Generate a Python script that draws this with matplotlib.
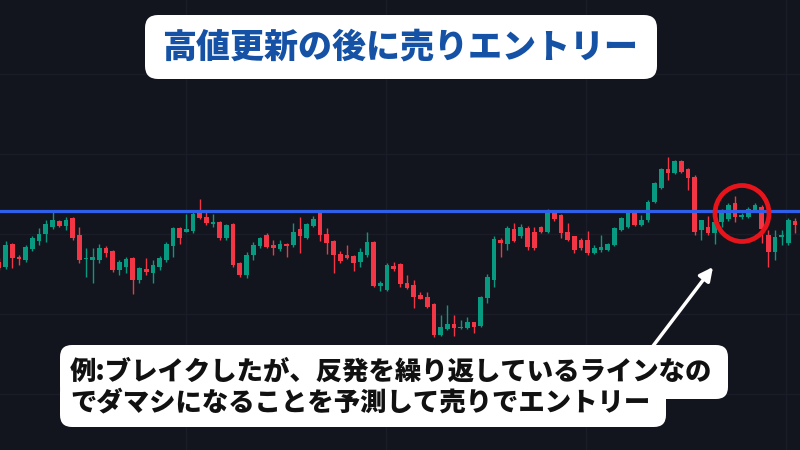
import matplotlib
matplotlib.use("Agg")
import matplotlib.pyplot as plt
import numpy as np
from matplotlib.patches import FancyBboxPatch, Ellipse

plt.rcParams['font.family'] = ['Noto Sans CJK JP', 'DejaVu Sans']

# OHLC (price units)
opens = [188, 183, 206, 193, 190, 201, 209, 216, 223, 229, 224, 232, 215, 191, 190, 190, 202, 199, 180, 183,
         192, 170, 181, 177, 183, 190, 204, 222, 218, 219, 237, 233, 226, 228, 212, 226, 187, 175, 195, 204,
         215, 205, 201, 206, 205, 221, 212, 224, 237, 216, 209, 196, 195, 194, 188, 195, 208, 164, 160, 184,
         186, 167, 165, 155, 153, 146, 115, 121, 126, 122, 122, 128, 124, 152, 170, 210, 206, 221, 214, 222,
         218, 223, 218, 237, 235, 218, 214, 210, 210, 197, 200, 200, 205, 220, 223, 238, 225, 230, 248, 262,
         281, 277, 289, 281, 273, 220, 223, 217, 228, 231, 247, 233, 233, 240, 243, 215, 198, 213, 207, 229]
highs = [192, 209, 207, 195, 205, 214, 222, 230, 239, 230, 233, 233, 223, 202, 202, 206, 204, 200, 190, 193,
         193, 183, 192, 190, 194, 208, 223, 223, 236, 238, 251, 239, 236, 229, 226, 227, 188, 198, 208, 213,
         217, 210, 210, 207, 227, 233, 227, 234, 238, 222, 210, 199, 205, 195, 202, 218, 209, 169, 187, 188,
         187, 175, 170, 158, 158, 147, 135, 145, 135, 130, 133, 128, 154, 176, 214, 212, 224, 227, 226, 224,
         223, 224, 241, 238, 236, 227, 214, 212, 219, 205, 215, 207, 223, 233, 240, 239, 235, 250, 268, 282,
         293, 290, 290, 282, 275, 230, 234, 231, 241, 247, 254, 237, 243, 247, 245, 220, 220, 220, 232, 232]
lows = [180, 181, 182, 185, 188, 199, 205, 208, 221, 223, 220, 210, 187, 173, 167, 187, 193, 178, 175, 177,
        156, 167, 175, 167, 180, 188, 193, 206, 218, 217, 231, 225, 223, 210, 210, 183, 173, 172, 190, 202,
        202, 195, 199, 193, 203, 197, 211, 223, 209, 196, 177, 187, 191, 179, 183, 193, 163, 159, 159, 179,
        163, 161, 142, 151, 142, 113, 114, 120, 114, 121, 121, 117, 123, 147, 163, 193, 200, 208, 212, 200,
        200, 217, 217, 229, 212, 209, 197, 200, 195, 196, 198, 199, 204, 219, 222, 224, 224, 228, 247, 261,
        270, 276, 277, 260, 215, 210, 215, 206, 223, 229, 228, 231, 232, 239, 207, 183, 190, 205, 205, 217]
closes = [182, 205, 192, 191, 203, 212, 216, 226, 230, 224, 230, 212, 190, 192, 193, 202, 197, 180, 188, 191,
          170, 182, 178, 185, 192, 206, 222, 212, 221, 236, 232, 227, 228, 212, 225, 185, 175, 195, 205, 212,
          203, 202, 206, 204, 218, 214, 226, 231, 215, 207, 195, 189, 192, 187, 198, 208, 164, 167, 185, 181,
          166, 162, 153, 151, 143, 115, 123, 126, 122, 123, 128, 123, 153, 173, 211, 207, 222, 209, 223, 203,
          202, 218, 237, 231, 217, 210, 200, 202, 197, 202, 203, 206, 222, 232, 238, 225, 230, 248, 267, 281,
          277, 289, 278, 272, 218, 230, 217, 228, 238, 245, 233, 235, 241, 245, 221, 198, 213, 215, 230, 225]
resistance = 239

title = "高値更新の後に売りエントリー"
note_line1 = "例:ブレイクしたが、反発を繰り返しているラインなの"
note_line2 = "でダマシになることを予測して売りでエントリー"

UP = '#089981'
DOWN = '#f23645'
BG = '#12151d'

fig = plt.figure(figsize=(8, 4.5), dpi=100)
fig.patch.set_facecolor(BG)
ax = fig.add_axes([0, 0, 1, 1])
ax.set_facecolor(BG)

o = np.array(opens, float)
h = np.array(highs, float)
l = np.array(lows, float)
c = np.array(closes, float)
idx = np.arange(len(o))
cols = np.where(c >= o, UP, DOWN)

ax.vlines(idx, l, h, colors=cols, linewidth=1.0, zorder=3)
body_h = np.maximum(np.abs(c - o), 1.5)
ax.bar(idx, body_h, bottom=np.minimum(o, c), width=0.7, color=cols, zorder=4, linewidth=0)

ax.axhline(resistance, color='#2f5fe8', linewidth=2.3, zorder=5)

# px -> candle index: x_px = -1 + 6.69 * i
step = 6.69
ax.set_xlim(1 / step, 801 / step)
ax.set_ylim(0, 450)

ax.set_xticks((np.arange(4) * 200 + 187) / step)
ax.set_yticks([56, 136, 216, 296, 376])
ax.grid(True, color='#1a1d27', linewidth=1.0, zorder=0)
ax.tick_params(length=0, labelbottom=False, labelleft=False)
for s in ax.spines.values():
    s.set_visible(False)

# red circle around the fake breakout
ax.add_patch(Ellipse((743 / step, 236.5), 54 / step, 56, fill=False,
                     edgecolor='#e8141b', linewidth=3.4, zorder=6))

# arrow from note box
ax.annotate('', xy=(714 / step, 183), xytext=(654 / step, 104),
            arrowprops=dict(arrowstyle='-|>', color='white', lw=2.5,
                            mutation_scale=20, shrinkA=0, shrinkB=0), zorder=7)

# title box
W, H = 800, 450
def fbox(x0, y0, x1, y1, r):
    return FancyBboxPatch((x0 / W, 1 - y1 / H), (x1 - x0) / W, (y1 - y0) / H,
                          boxstyle=f"round,pad=0,rounding_size={r / W}",
                          transform=fig.transFigure, facecolor='white',
                          edgecolor='none', zorder=10, mutation_aspect=W / H)

fig.patches.append(fbox(145, 15, 657, 79, 13))
fig.text(0.5, 1 - 47 / H, title, ha='center', va='center', fontsize=24.5,
         fontweight='black', color='#1552a5', zorder=11)

# note box (two stacked rounded parts)
fig.patches.append(fbox(60, 345, 728, 399, 12))
fig.patches.append(fbox(60, 380, 666, 427, 12))
fig.text(70 / W, 1 - 371 / H, note_line1, ha='left', va='center', fontsize=19,
         fontweight='black', color='#111111', zorder=11)
fig.text(70 / W, 1 - 402 / H, note_line2, ha='left', va='center', fontsize=19,
         fontweight='black', color='#111111', zorder=11)

fig.savefig('out.png', dpi=100, facecolor=BG)
